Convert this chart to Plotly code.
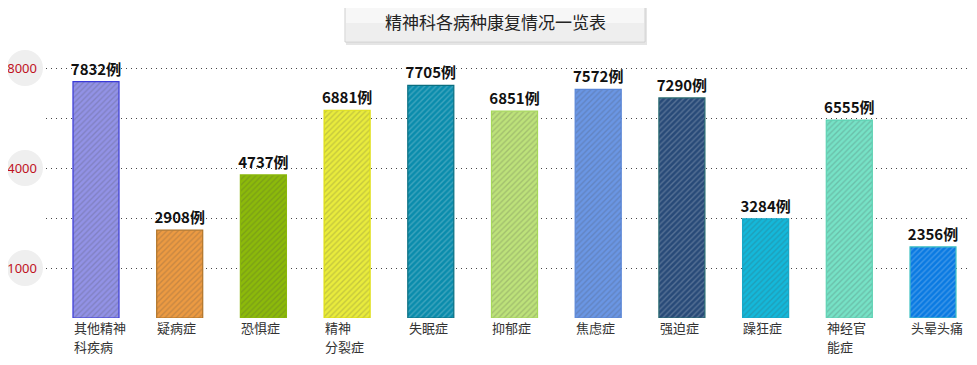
import plotly.graph_objects as go

title = "精神科各病种康复情况一览表"
categories = ["其他精神科疾病", "疑病症", "恐惧症", "精神分裂症", "失眠症", "抑郁症",
              "焦虑症", "强迫症", "躁狂症", "神经官能症", "头晕头痛"]
axis_labels = ["其他精神<br>科疾病", "疑病症", "恐惧症", "精神<br>分裂症", "失眠症", "抑郁症",
               "焦虑症", "强迫症", "躁狂症", "神经官<br>能症", "头晕头痛"]
values = [7832, 2908, 4737, 6881, 7705, 6851, 7572, 7290, 3284, 6555, 2356]
value_suffix = "例"
tick_vals = [1656, 3312, 4968, 6624, 8280, 9936]
tick_text = ["1000", "", "4000", "", "8000", ""]

fill_colors = ["#9292e6", "#ec9a42", "#8cba0a", "#e9ec3c", "#0a8cac", "#bde27a",
               "#6a96e4", "#284a78", "#14b8da", "#76e2c6", "#0a7ae2"]
line_colors = ["#3a3ad8", "#b07428", "#8ab80a", "#dede10", "#0a6e80", "#a6d85a",
               "#5a86d6", "#2a6c72", "#18a8c8", "#5ed2b4", "#44c4c4"]

# page body has an 8px margin: draw a 961x349 figure so it fills the 977x365 window
OFF = 8
W, H = 977 - 2 * OFF, 365 - 2 * OFF
# plot area in reference-window pixels
RL, RR, RT, RB = 46, 969, 18, 318
L, R, T, B = RL - OFF, RR - OFF, RT - OFF, RB - OFF
PW, PH = R - L, B - T
C0, STEP = 96.0, 83.7  # first bar centre and spacing in reference pixels
x_range = [(RL - C0) / STEP, (RR - C0) / STEP]

def px_x(px):  # reference window pixel -> paper x
    return (px - OFF - L) / PW

def px_y(py):  # reference window pixel -> paper y
    return (B - (py - OFF)) / PH

x_idx = list(range(len(categories)))

fig = go.Figure()
fig.add_trace(go.Bar(
    x=x_idx, y=values, width=0.55,
    marker=dict(color=fill_colors, line=dict(color=line_colors, width=1.2),
                pattern=dict(shape="/", fillmode="overlay", fgcolor="#ffffff",
                             fgopacity=0.22, size=4, solidity=0.35)),
    text=[f"{v}{value_suffix}" for v in values],
    textposition="outside", cliponaxis=False, constraintext="none",
    textfont=dict(family="Noto Sans CJK SC", size=15, color="#111111", weight="bold"),
    hoverinfo="skip",
))

shapes = []
# gray circles behind tick labels
for v, t in zip(tick_vals, tick_text):
    if t:
        shapes.append(dict(type="circle", xref="paper", yref="y", layer="below",
                           xsizemode="pixel", ysizemode="pixel",
                           xanchor=px_x(25), yanchor=v, x0=-18, x1=18, y0=-18, y1=18,
                           fillcolor="#efefef", line=dict(width=0)))

# title box shadow + box
bx0, bx1, by0, by1 = 345, 645, 3, 42
shapes.append(dict(type="rect", xref="paper", yref="paper", layer="above",
                   x0=px_x(bx0 + 1), x1=px_x(bx1 + 2), y0=px_y(by1 + 3), y1=px_y(by0 + 2),
                   fillcolor="rgba(0,0,0,0.10)", line=dict(width=0)))
shapes.append(dict(type="rect", xref="paper", yref="paper", layer="above",
                   x0=px_x(bx0), x1=px_x(bx1), y0=px_y(by1), y1=px_y(by0),
                   fillcolor="#f7f7f7", line=dict(color="#cfcfcf", width=1)))
shapes.append(dict(type="rect", xref="paper", yref="paper", layer="above",
                   x0=px_x(bx0 + 1), x1=px_x(bx1 - 1), y0=px_y(by1 - 1), y1=px_y(by0 + 20),
                   fillcolor="#eeeeee", line=dict(width=0)))

annotations = [dict(text=title, xref="paper", yref="paper", x=px_x(495), y=px_y(22),
                    xanchor="center", yanchor="middle", showarrow=False,
                    font=dict(family="Noto Sans CJK SC", size=17, color="#222222"))]
line_centres = [327, 346]
for i, lab in enumerate(axis_labels):
    for k, part in enumerate(lab.split("<br>")):
        annotations.append(dict(text=part, xref="x", yref="paper", x=i - 0.29,
                                y=px_y(line_centres[k]),
                                xanchor="left", yanchor="middle", align="left", showarrow=False,
                                font=dict(family="Noto Sans CJK SC", size=13, color="#333333")))

fig.update_layout(
    width=W, height=H,
    margin=dict(l=L, r=W - R, t=T, b=H - B, pad=0, autoexpand=False),
    paper_bgcolor="white", plot_bgcolor="white",
    showlegend=False,
    bargap=0.45,
    shapes=shapes, annotations=annotations,
    xaxis=dict(range=x_range, showticklabels=False, showgrid=False, automargin=False,
               zeroline=False, showline=False, ticks=""),
    yaxis=dict(range=[0, 9936], tickvals=tick_vals, ticktext=tick_text, automargin=False,
               showgrid=True, gridcolor="#444444", gridwidth=1, griddash="1px,4px",
               zeroline=False, showline=False, ticks="", ticklabelstandoff=8,
               tickfont=dict(family="Noto Sans", size=13, color="#c0121e")),
)

fig.write_html("out.html")
